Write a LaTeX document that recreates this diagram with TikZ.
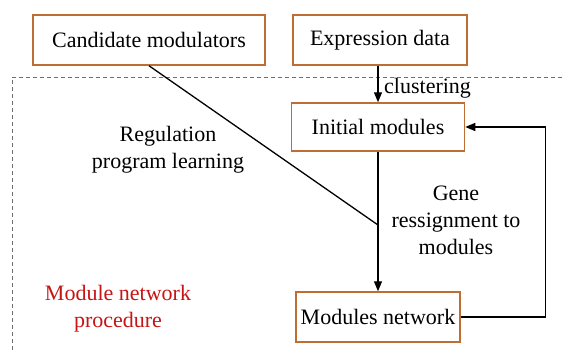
\documentclass[tikz,border=0pt]{standalone}
\usepackage{fontspec}
\setmainfont{Liberation Serif}
\usetikzlibrary{arrows.meta}
\definecolor{boxorange}{RGB}{190,110,50}
\definecolor{proclabel}{RGB}{200,20,20}
\definecolor{dashgray}{RGB}{110,110,110}
\begin{document}
\begin{tikzpicture}[x=1pt,y=-1pt,
  box/.style={draw=boxorange,line width=1.5pt,fill=white,minimum height=50pt,inner sep=0pt,
    font=\rmfamily\fontsize{22}{26}\selectfont},
  lbl/.style={align=center,font=\rmfamily\fontsize{22}{27}\selectfont,inner sep=0pt},
  conn/.style={line width=1.3pt},
  arr/.style={conn,-{Triangle[length=10pt,width=8pt]}}]
\useasboundingbox (0,0) rectangle (562,351);
\fill[white] (0,0) rectangle (562,351);
% dashed procedure frame
\draw[dashgray,line width=1pt,dash pattern=on 4pt off 3pt] (562,77) -- (12,77) -- (12,351);
\node[box,minimum width=232pt] (cand) at (149,40) {Candidate modulators};
\node[box,minimum width=174pt] (expr) at (380,40) {Expression data};
\node[box,minimum width=173pt,minimum height=48pt] (init) at (378,127) {Initial modules};
\node[box,minimum width=164pt] (modnet) at (378,317) {Modules network};
\node[lbl,anchor=west] (clus) at (384,88) {clustering};
\node[lbl] (reg) at (168,150) {Regulation\\program learning};
\node[lbl] (gene) at (456,220) {Gene\\ressignment to\\modules};
\node[lbl,text=proclabel] (proc) at (118,309) {Module network\\procedure};
\coordinate (j) at (378,225);
\draw[arr] (init.north |- expr.south) -- (init.north);
\draw[arr] (init.south) -- (modnet.north);
\draw[conn] (cand.south) -- (j);
\draw[arr] (modnet.east) -- ++(85,0) |- (init.east);
\end{tikzpicture}
\end{document}
